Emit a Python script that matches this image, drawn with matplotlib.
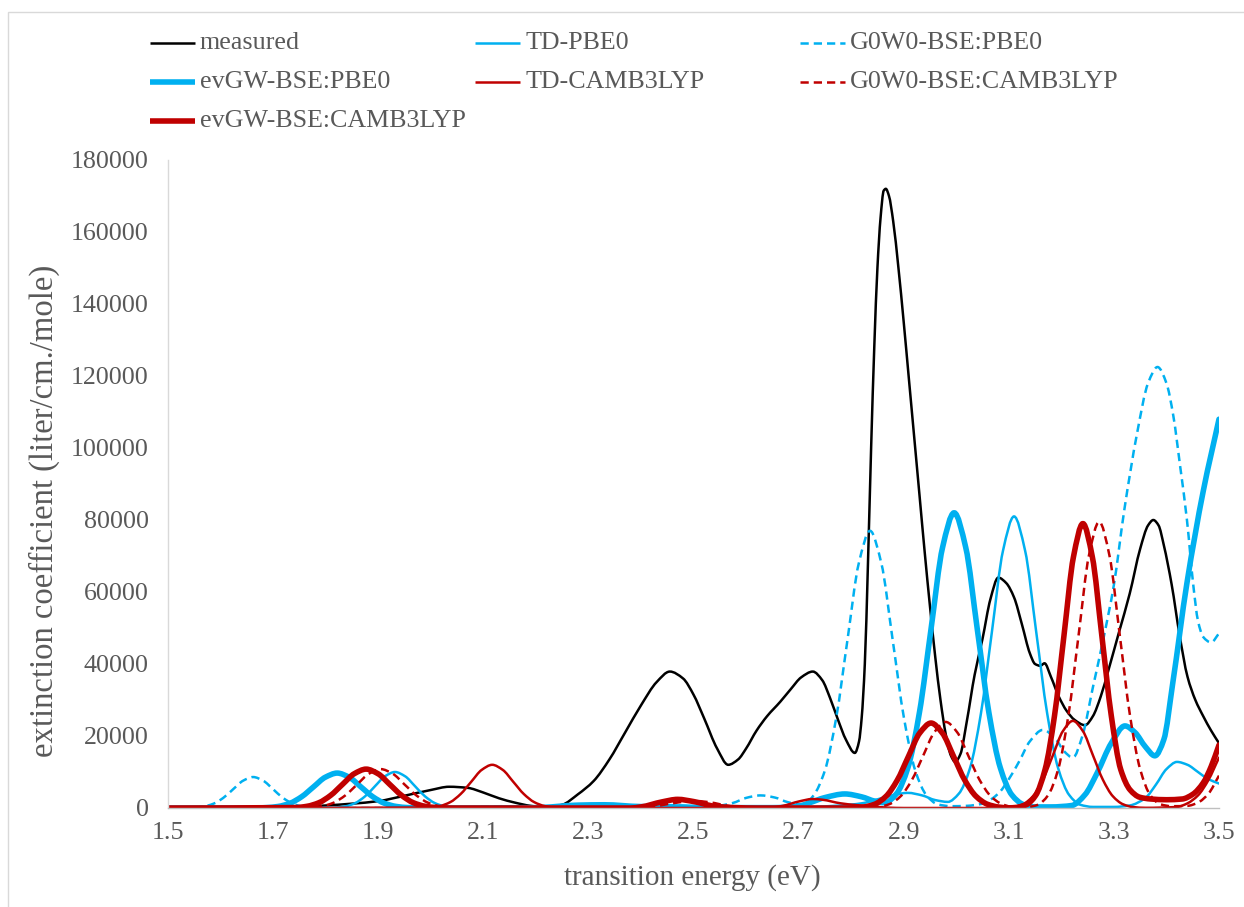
import matplotlib
matplotlib.use("Agg")
import numpy as np
import matplotlib.pyplot as plt
from matplotlib.lines import Line2D
from matplotlib.patches import Rectangle, PathPatch
from matplotlib.path import Path

# ---------------- data ----------------
series_names = ["measured", "TD-PBE0", "G0W0-BSE:PBE0", "evGW-BSE:PBE0",
                "TD-CAMB3LYP", "G0W0-BSE:CAMB3LYP", "evGW-BSE:CAMB3LYP"]

measured_x = [1.50, 1.60, 1.70, 1.75, 1.80, 1.85, 1.90, 1.95, 2.00, 2.035, 2.07, 2.10, 2.13, 2.16,
              2.19, 2.22, 2.25, 2.28, 2.31, 2.34, 2.37, 2.40, 2.43, 2.455, 2.48, 2.50, 2.52, 2.545,
              2.566, 2.585, 2.60, 2.62, 2.64, 2.665, 2.685, 2.705, 2.727, 2.745, 2.76, 2.775, 2.79,
              2.807, 2.815, 2.82, 2.826, 2.832, 2.838, 2.844, 2.85, 2.856, 2.862, 2.866, 2.872,
              2.88, 2.89, 2.90, 2.91, 2.92, 2.93, 2.94, 2.95, 2.96, 2.97, 2.98, 2.99, 2.998, 3.008,
              3.02, 3.035, 3.05, 3.065, 3.08, 3.095, 3.11, 3.125, 3.14, 3.15, 3.16, 3.168, 3.18,
              3.195, 3.21, 3.225, 3.245, 3.26, 3.275, 3.29, 3.31, 3.33, 3.35, 3.365, 3.375, 3.385,
              3.395, 3.41, 3.425, 3.44, 3.455, 3.47, 3.485, 3.50]
measured_y = [0, 0, 100, 300, 700, 1200, 1900, 3400, 5000, 5900, 5600, 4300, 2700, 1500,
              600, 200, 900, 3800, 7500, 13500, 21000, 28500, 35000, 37900, 36000, 31500, 25000, 16500,
              12000, 13500, 16500, 21500, 25500, 29500, 33000, 36300, 37900, 35500, 30500, 24500, 19000,
              15300, 18500, 25000, 40000, 68000, 100000, 128000, 150000, 164000, 171500, 172000, 170000,
              163000, 150000, 135000, 119000, 103000, 87000, 71000, 56000, 42000, 30000, 20500, 14500, 12800, 15000,
              24000, 37000, 47000, 58000, 64000, 62500, 58500, 51000, 43000, 40000, 39500, 40200, 36500,
              31000, 27000, 24500, 23000, 25500, 31000, 38500, 49000, 59500, 72000, 78500, 80000, 78500,
              73000, 62000, 48000, 36500, 30000, 25500, 21500, 18000]

td_pbe0_x = [1.50, 1.78, 1.80, 1.818, 1.837, 1.856, 1.875, 1.894, 1.913, 1.932, 1.951, 1.97, 1.989,
             2.008, 2.027, 2.046, 2.07, 2.20, 2.25, 2.30, 2.34, 2.40, 2.46, 2.55, 2.65, 2.72, 2.78,
             2.82, 2.85, 2.88, 2.908, 2.935, 2.96, 2.984, 3.005, 3.026, 3.047, 3.068, 3.089, 3.11,
             3.131, 3.152, 3.173, 3.194, 3.215, 3.236, 3.26, 3.30, 3.33, 3.36, 3.38, 3.40, 3.42,
             3.44, 3.46, 3.48, 3.50]
td_pbe0_y = [0, 0, 40, 110, 440, 1350, 3250, 6070, 8830, 10000, 8830, 6070, 3250,
             1350, 440, 110, 20, 100, 500, 900, 900, 500, 300, 100, 100, 300, 700,
             1300, 2400, 3600, 4200, 3500, 2200, 1700, 4000, 11000, 26300, 49100, 71500, 81000,
             71500, 49100, 26300, 11000, 3600, 900, 300, 300, 700, 2800, 6500, 10800, 12800,
             12000, 10000, 8000, 6800]

g0w0_pbe0_x = [1.50, 1.53, 1.548, 1.567, 1.586, 1.605, 1.624, 1.643, 1.662, 1.681, 1.70, 1.719, 1.738,
               1.757, 1.776, 1.80, 2.05, 2.10, 2.14, 2.20, 2.35, 2.40, 2.45, 2.50, 2.55, 2.575, 2.60,
               2.627, 2.655, 2.68, 2.70, 2.71, 2.7285, 2.75, 2.7715, 2.793, 2.8145, 2.836, 2.8575,
               2.879, 2.9005, 2.922, 2.9435, 2.965, 2.99, 3.02, 3.05, 3.08, 3.10, 3.12, 3.14, 3.165,
               3.19, 3.205, 3.222, 3.24, 3.26, 3.28, 3.30, 3.32, 3.344, 3.365, 3.383, 3.40, 3.413,
               3.426, 3.439, 3.451, 3.46, 3.47, 3.485, 3.50]
g0w0_pbe0_y = [0, 20, 95, 380, 1160, 2790, 5220, 7590, 8600, 7590, 5220, 2790, 1160,
               380, 95, 0, 0, 400, 500, 100, 100, 400, 800, 500, 700, 1400, 2800,
               3500, 2900, 1600, 1100, 1100, 3500, 10400, 25000, 46700, 67950, 77000, 67950,
               46700, 25000, 10400, 3500, 1000, 500, 600, 1200, 4000, 8000, 13000, 18500, 21700,
               19000, 15800, 14000, 20000, 33500, 47000, 62000, 83000, 104000, 118000, 122500, 118000, 109000,
               95000, 80000, 62000, 52000, 47500, 46000, 48500]

evgw_pbe0_x = [1.50, 1.665, 1.687, 1.7095, 1.732, 1.7545, 1.777, 1.7995, 1.822, 1.8445, 1.867, 1.8895,
               1.912, 1.9345, 1.957, 1.99, 2.20, 2.28, 2.33, 2.40, 2.47, 2.55, 2.65, 2.70, 2.72, 2.75,
               2.788, 2.82, 2.845, 2.864, 2.886, 2.908, 2.93, 2.952, 2.974, 2.996, 3.018, 3.04, 3.062,
               3.084, 3.106, 3.128, 3.15, 3.18, 3.22, 3.245, 3.268, 3.295, 3.321, 3.34, 3.36, 3.378,
               3.395, 3.412, 3.439, 3.47, 3.50]
evgw_pbe0_y = [0, 0, 110, 430, 1310, 3150, 5880, 8560, 9700, 8560, 5880, 3150,
               1310, 430, 110, 0, 100, 800, 900, 400, 300, 100, 100, 500, 1400, 2900,
               3900, 3100, 1900, 1450, 3900, 11200, 26600, 49700, 72400, 82000, 72400, 49700, 26600,
               11100, 3600, 950, 300, 300, 700, 3700, 9700, 18000, 22800, 21000, 17000, 14500,
               19000, 34700, 62500, 88000, 108000]

td_cam_x = [1.50, 1.997, 2.017, 2.037, 2.057, 2.077, 2.097, 2.117, 2.137, 2.157, 2.177, 2.197, 2.217,
            2.237, 2.26, 2.64, 2.67, 2.70, 2.727, 2.745, 2.78, 2.81, 2.836, 2.87, 2.90, 3.08, 3.108,
            3.127, 3.146, 3.165, 3.184, 3.203, 3.222, 3.241, 3.26, 3.279, 3.298, 3.317, 3.336, 3.36,
            3.42, 3.44, 3.46, 3.48, 3.50]
td_cam_y = [0, 130, 530, 1620, 3900, 7280, 10590, 12000, 10590, 7280, 3900, 1620, 530,
            130, 0, 0, 600, 1800, 2500, 2300, 1300, 800, 500, 100, 0, 0, 270,
            1060, 3270, 7860, 14680, 21360, 24200, 21360, 14680, 7860, 3270, 1060, 270, 50,
            300, 1300, 3500, 7800, 14000]

g0w0_cam_x = [1.50, 1.77, 1.7925, 1.815, 1.8375, 1.86, 1.8825, 1.905, 1.9275, 1.95, 1.9725, 1.995,
              2.0175, 2.04, 2.07, 2.40, 2.42, 2.46, 2.50, 2.53, 2.57, 2.60, 2.65, 2.85, 2.8725,
              2.894, 2.9155, 2.937, 2.9585, 2.98, 3.0015, 3.023, 3.0445, 3.066, 3.0875, 3.109, 3.1355,
              3.155, 3.1745, 3.194, 3.2135, 3.233, 3.2525, 3.272, 3.2915, 3.311, 3.3305, 3.35, 3.3695,
              3.389, 3.41, 3.44, 3.46, 3.48, 3.50]
g0w0_cam_y = [0, 120, 475, 1460, 3510, 6550, 9530, 10800, 9530, 6550, 3510, 1460,
              475, 120, 0, 0, 300, 1300, 2000, 1600, 500, 100, 0, 265, 1050,
              3235, 7760, 14500, 21090, 23900, 21090, 14500, 7760, 3235, 1050, 265, 280,
              880, 3490, 10760, 25810, 48220, 70160, 79500, 70160, 48220, 25810, 10760, 3490,
              1000, 500, 600, 1500, 4000, 9000]

evgw_cam_x = [1.50, 1.742, 1.7645, 1.787, 1.8095, 1.832, 1.8545, 1.877, 1.8995, 1.922, 1.9445, 1.967,
              1.9895, 2.012, 2.04, 2.38, 2.40, 2.44, 2.47, 2.50, 2.54, 2.58, 2.62, 2.80, 2.823,
              2.8445, 2.866, 2.8875, 2.909, 2.9305, 2.952, 2.9735, 2.995, 3.0165, 3.038, 3.0595, 3.081,
              3.10, 3.115, 3.133, 3.151, 3.169, 3.187, 3.205, 3.223, 3.241, 3.259, 3.277, 3.295,
              3.313, 3.331, 3.349, 3.37, 3.40, 3.43, 3.45, 3.47, 3.485, 3.50]
evgw_cam_y = [0, 120, 475, 1460, 3510, 6550, 9530, 10800, 9530, 6550, 3510, 1460,
              475, 120, 0, 0, 300, 1700, 2400, 1800, 500, 100, 0, 0, 260,
              1035, 3195, 7660, 14310, 20830, 23600, 20830, 14310, 7660, 3195, 1035, 260,
              50, 173, 877, 3470, 10690, 25650, 47910, 69720, 79000, 69720, 47910, 25650,
              10690, 5000, 3000, 2500, 2300, 2500, 3800, 7000, 11500, 17500]

x_ticks = [1.5, 1.7, 1.9, 2.1, 2.3, 2.5, 2.7, 2.9, 3.1, 3.3, 3.5]
x_tick_labels = ["1.5", "1.7", "1.9", "2.1", "2.3", "2.5", "2.7", "2.9", "3.1", "3.3", "3.5"]
y_ticks = [0, 20000, 40000, 60000, 80000, 100000, 120000, 140000, 160000, 180000]
y_tick_labels = ["0", "20000", "40000", "60000", "80000", "100000", "120000", "140000", "160000", "180000"]
x_title = "transition energy (eV)"
y_title = "extinction coefficient (liter/cm./mole)"

# ---------------- styling ----------------
BLUE = "#00B0F0"
RED = "#C00000"
TEXT = "#595959"
THIN = 1.8
THICK = 4.0
DASH = (0, (3.3, 2.0))

series = [
    (measured_x, measured_y, dict(color="black", lw=THIN, ls="-")),
    (td_pbe0_x, td_pbe0_y, dict(color=BLUE, lw=THIN, ls="-")),
    (g0w0_pbe0_x, g0w0_pbe0_y, dict(color=BLUE, lw=THIN, ls=DASH)),
    (evgw_pbe0_x, evgw_pbe0_y, dict(color=BLUE, lw=THICK, ls="-")),
    (td_cam_x, td_cam_y, dict(color=RED, lw=THIN, ls="-")),
    (g0w0_cam_x, g0w0_cam_y, dict(color=RED, lw=THIN, ls=DASH)),
    (evgw_cam_x, evgw_cam_y, dict(color=RED, lw=THICK, ls="-")),
]


def smoothed_path(xs, ys):
    """Excel-style 'smoothed line': cubic Bezier segments through the given points
    (monotone Hermite tangents), returned as a matplotlib Path in data units."""
    x = np.asarray(xs, float)
    y = np.asarray(ys, float)
    h = np.diff(x)
    d = np.diff(y) / h
    n = len(x)
    m = np.zeros(n)
    for k in range(1, n - 1):
        if d[k - 1] * d[k] > 0:
            w1 = 2 * h[k] + h[k - 1]
            w2 = h[k] + 2 * h[k - 1]
            m[k] = (w1 + w2) / (w1 / d[k - 1] + w2 / d[k])
    m[0] = d[0]
    m[-1] = d[-1]
    verts = [(x[0], y[0])]
    codes = [Path.MOVETO]
    for k in range(n - 1):
        verts += [(x[k] + h[k] / 3, y[k] + m[k] * h[k] / 3),
                  (x[k + 1] - h[k] / 3, y[k + 1] - m[k + 1] * h[k] / 3),
                  (x[k + 1], y[k + 1])]
        codes += [Path.CURVE4] * 3
    return Path(verts, codes)


plt.rcParams["font.family"] = ["Liberation Serif", "DejaVu Serif"]

W, H = 1244, 907
fig = plt.figure(figsize=(W / 100, H / 100), dpi=100)
fig.patch.set_facecolor("white")

# chart-area border (only top & left edges visible in the reference)
fig.patches.append(Rectangle((8 / W, -0.5), 2.0, 0.5 + (1 - 12 / H), transform=fig.transFigure,
                             fill=False, edgecolor="#D9D9D9", lw=1.0, zorder=0))

ax = fig.add_axes([168 / W, 1 - 808 / H, (1219 - 168) / W, (808 - 160) / H])
ax.set_facecolor("white")

for z, ((xs, ys, st), name) in enumerate(zip(series, series_names)):
    patch = PathPatch(smoothed_path(xs, ys), facecolor="none", edgecolor=st["color"],
                      lw=st["lw"], linestyle=st["ls"], joinstyle="round",
                      capstyle="butt" if st["ls"] != "-" else "round",
                      transform=ax.transData, zorder=2 + z * 0.01, label=name)
    patch.set_clip_on(True)
    ax.add_patch(patch)

ax.set_xlim(1.5, 3.5)
ax.set_ylim(0, 180000)
ax.set_xticks(x_ticks)
ax.set_xticklabels(x_tick_labels)
ax.set_yticks(y_ticks)
ax.set_yticklabels(y_tick_labels)
ax.tick_params(axis="both", length=0, labelsize=18.7, colors=TEXT)
ax.tick_params(axis="y", pad=14)
ax.tick_params(axis="x", pad=10)
for s in ["top", "right"]:
    ax.spines[s].set_visible(False)
ax.spines["left"].set_color("#D9D9D9")
ax.spines["bottom"].set_color("#BFBFBF")
ax.spines["left"].set_linewidth(1.0)
ax.spines["bottom"].set_linewidth(1.0)

ax.set_xlabel(x_title, fontsize=21, color=TEXT)
ax.set_ylabel(y_title, fontsize=23.5, color=TEXT)
ax.xaxis.set_label_coords((692 - 168) / (1219 - 168), -(864 - 808) / (808 - 160))
ax.yaxis.set_label_coords(-(168 - 60) / (1219 - 168), (808 - 511) / (808 - 160))

# manual legend (3 columns x 3 rows), styled like the series
col_x = [150, 475, 800]
row_y = [43, 82, 121]
for i, ((xs, ys, st), name) in enumerate(zip(series, series_names)):
    r, c = divmod(i, 3)
    x0 = col_x[c]
    y0 = row_y[r]
    fig.add_artist(Line2D([x0 / W, (x0 + 45) / W], [1 - y0 / H, 1 - y0 / H],
                          transform=fig.transFigure, color=st["color"], lw=st["lw"],
                          ls=st["ls"], dash_capstyle="butt", solid_capstyle="butt"))
    fig.text((x0 + 50) / W, 1 - y0 / H, name, fontsize=18.7, color=TEXT,
             ha="left", va="center")

fig.savefig("out.png", dpi=100, facecolor="white")
